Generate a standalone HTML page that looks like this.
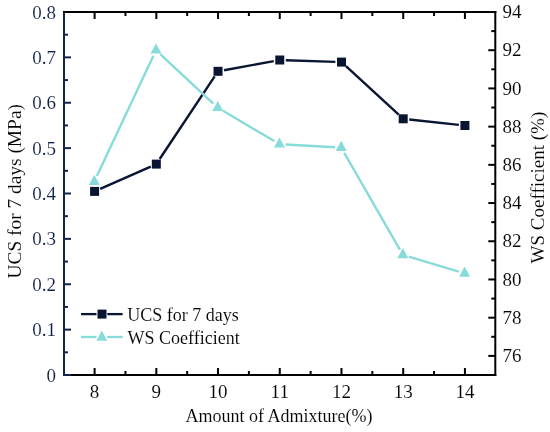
<!DOCTYPE html>
<html><head><meta charset="utf-8"><style>
html,body{margin:0;padding:0;background:#fff;}
svg{display:block;will-change:transform;font-family:"Liberation Serif", serif;}
text{stroke:#fff;stroke-width:0.1px;}
</style></head><body>
<svg width="550" height="432" viewBox="0 0 550 432">
<rect width="550" height="432" fill="#fff"/>
<line x1="94.60" y1="375.0" x2="94.60" y2="368.0" stroke="#000" stroke-width="2"/><line x1="94.60" y1="12.0" x2="94.60" y2="19.0" stroke="#000" stroke-width="2"/><line x1="156.32" y1="375.0" x2="156.32" y2="368.0" stroke="#000" stroke-width="2"/><line x1="156.32" y1="12.0" x2="156.32" y2="19.0" stroke="#000" stroke-width="2"/><line x1="218.04" y1="375.0" x2="218.04" y2="368.0" stroke="#000" stroke-width="2"/><line x1="218.04" y1="12.0" x2="218.04" y2="19.0" stroke="#000" stroke-width="2"/><line x1="279.76" y1="375.0" x2="279.76" y2="368.0" stroke="#000" stroke-width="2"/><line x1="279.76" y1="12.0" x2="279.76" y2="19.0" stroke="#000" stroke-width="2"/><line x1="341.48" y1="375.0" x2="341.48" y2="368.0" stroke="#000" stroke-width="2"/><line x1="341.48" y1="12.0" x2="341.48" y2="19.0" stroke="#000" stroke-width="2"/><line x1="403.20" y1="375.0" x2="403.20" y2="368.0" stroke="#000" stroke-width="2"/><line x1="403.20" y1="12.0" x2="403.20" y2="19.0" stroke="#000" stroke-width="2"/><line x1="464.92" y1="375.0" x2="464.92" y2="368.0" stroke="#000" stroke-width="2"/><line x1="464.92" y1="12.0" x2="464.92" y2="19.0" stroke="#000" stroke-width="2"/><line x1="125.46" y1="375.0" x2="125.46" y2="371.0" stroke="#000" stroke-width="2"/><line x1="125.46" y1="12.0" x2="125.46" y2="16.0" stroke="#000" stroke-width="2"/><line x1="187.18" y1="375.0" x2="187.18" y2="371.0" stroke="#000" stroke-width="2"/><line x1="187.18" y1="12.0" x2="187.18" y2="16.0" stroke="#000" stroke-width="2"/><line x1="248.90" y1="375.0" x2="248.90" y2="371.0" stroke="#000" stroke-width="2"/><line x1="248.90" y1="12.0" x2="248.90" y2="16.0" stroke="#000" stroke-width="2"/><line x1="310.62" y1="375.0" x2="310.62" y2="371.0" stroke="#000" stroke-width="2"/><line x1="310.62" y1="12.0" x2="310.62" y2="16.0" stroke="#000" stroke-width="2"/><line x1="372.34" y1="375.0" x2="372.34" y2="371.0" stroke="#000" stroke-width="2"/><line x1="372.34" y1="12.0" x2="372.34" y2="16.0" stroke="#000" stroke-width="2"/><line x1="434.06" y1="375.0" x2="434.06" y2="371.0" stroke="#000" stroke-width="2"/><line x1="434.06" y1="12.0" x2="434.06" y2="16.0" stroke="#000" stroke-width="2"/><line x1="64.0" y1="352.31" x2="68.0" y2="352.31" stroke="#132449" stroke-width="2"/><line x1="64.0" y1="329.62" x2="71.0" y2="329.62" stroke="#132449" stroke-width="2"/><line x1="64.0" y1="306.94" x2="68.0" y2="306.94" stroke="#132449" stroke-width="2"/><line x1="64.0" y1="284.25" x2="71.0" y2="284.25" stroke="#132449" stroke-width="2"/><line x1="64.0" y1="261.56" x2="68.0" y2="261.56" stroke="#132449" stroke-width="2"/><line x1="64.0" y1="238.87" x2="71.0" y2="238.87" stroke="#132449" stroke-width="2"/><line x1="64.0" y1="216.19" x2="68.0" y2="216.19" stroke="#132449" stroke-width="2"/><line x1="64.0" y1="193.50" x2="71.0" y2="193.50" stroke="#132449" stroke-width="2"/><line x1="64.0" y1="170.81" x2="68.0" y2="170.81" stroke="#132449" stroke-width="2"/><line x1="64.0" y1="148.12" x2="71.0" y2="148.12" stroke="#132449" stroke-width="2"/><line x1="64.0" y1="125.44" x2="68.0" y2="125.44" stroke="#132449" stroke-width="2"/><line x1="64.0" y1="102.75" x2="71.0" y2="102.75" stroke="#132449" stroke-width="2"/><line x1="64.0" y1="80.06" x2="68.0" y2="80.06" stroke="#132449" stroke-width="2"/><line x1="64.0" y1="57.38" x2="71.0" y2="57.38" stroke="#132449" stroke-width="2"/><line x1="64.0" y1="34.69" x2="68.0" y2="34.69" stroke="#132449" stroke-width="2"/><line x1="495.3" y1="355.89" x2="488.3" y2="355.89" stroke="#000" stroke-width="2"/><line x1="495.3" y1="336.79" x2="491.3" y2="336.79" stroke="#000" stroke-width="2"/><line x1="495.3" y1="317.68" x2="488.3" y2="317.68" stroke="#000" stroke-width="2"/><line x1="495.3" y1="298.58" x2="491.3" y2="298.58" stroke="#000" stroke-width="2"/><line x1="495.3" y1="279.47" x2="488.3" y2="279.47" stroke="#000" stroke-width="2"/><line x1="495.3" y1="260.37" x2="491.3" y2="260.37" stroke="#000" stroke-width="2"/><line x1="495.3" y1="241.26" x2="488.3" y2="241.26" stroke="#000" stroke-width="2"/><line x1="495.3" y1="222.16" x2="491.3" y2="222.16" stroke="#000" stroke-width="2"/><line x1="495.3" y1="203.05" x2="488.3" y2="203.05" stroke="#000" stroke-width="2"/><line x1="495.3" y1="183.95" x2="491.3" y2="183.95" stroke="#000" stroke-width="2"/><line x1="495.3" y1="164.84" x2="488.3" y2="164.84" stroke="#000" stroke-width="2"/><line x1="495.3" y1="145.74" x2="491.3" y2="145.74" stroke="#000" stroke-width="2"/><line x1="495.3" y1="126.63" x2="488.3" y2="126.63" stroke="#000" stroke-width="2"/><line x1="495.3" y1="107.53" x2="491.3" y2="107.53" stroke="#000" stroke-width="2"/><line x1="495.3" y1="88.42" x2="488.3" y2="88.42" stroke="#000" stroke-width="2"/><line x1="495.3" y1="69.32" x2="491.3" y2="69.32" stroke="#000" stroke-width="2"/><line x1="495.3" y1="50.21" x2="488.3" y2="50.21" stroke="#000" stroke-width="2"/><line x1="495.3" y1="31.11" x2="491.3" y2="31.11" stroke="#000" stroke-width="2"/>

<line x1="64.0" y1="375.0" x2="496.3" y2="375.0" stroke="#000" stroke-width="2"/>
<line x1="495.3" y1="11.0" x2="495.3" y2="376.0" stroke="#000" stroke-width="2"/>
<line x1="64.0" y1="11.0" x2="64.0" y2="376.0" stroke="#132449" stroke-width="2"/>
<line x1="63.0" y1="12.0" x2="496.3" y2="12.0" stroke="#000" stroke-width="2"/>
<line x1="64.0" y1="375.0" x2="71.0" y2="375.0" stroke="#132449" stroke-width="2"/>

<text x="56" y="381.50" text-anchor="end" fill="#0f1f45" font-size="19">0</text><text x="56" y="336.12" text-anchor="end" fill="#0f1f45" font-size="19">0.1</text><text x="56" y="290.75" text-anchor="end" fill="#0f1f45" font-size="19">0.2</text><text x="56" y="245.37" text-anchor="end" fill="#0f1f45" font-size="19">0.3</text><text x="56" y="200.00" text-anchor="end" fill="#0f1f45" font-size="19">0.4</text><text x="56" y="154.62" text-anchor="end" fill="#0f1f45" font-size="19">0.5</text><text x="56" y="109.25" text-anchor="end" fill="#0f1f45" font-size="19">0.6</text><text x="56" y="63.88" text-anchor="end" fill="#0f1f45" font-size="19">0.7</text><text x="56" y="18.50" text-anchor="end" fill="#0f1f45" font-size="19">0.8</text><text x="94.60" y="398" text-anchor="middle" fill="#000" font-size="19">8</text><text x="156.32" y="398" text-anchor="middle" fill="#000" font-size="19">9</text><text x="218.04" y="398" text-anchor="middle" fill="#000" font-size="19">10</text><text x="279.76" y="398" text-anchor="middle" fill="#000" font-size="19">11</text><text x="341.48" y="398" text-anchor="middle" fill="#000" font-size="19">12</text><text x="403.20" y="398" text-anchor="middle" fill="#000" font-size="19">13</text><text x="464.92" y="398" text-anchor="middle" fill="#000" font-size="19">14</text><text x="502.6" y="362.09" fill="#000" font-size="19">76</text><text x="502.6" y="323.88" fill="#000" font-size="19">78</text><text x="502.6" y="285.67" fill="#000" font-size="19">80</text><text x="502.6" y="247.46" fill="#000" font-size="19">82</text><text x="502.6" y="209.25" fill="#000" font-size="19">84</text><text x="502.6" y="171.04" fill="#000" font-size="19">86</text><text x="502.6" y="132.83" fill="#000" font-size="19">88</text><text x="502.6" y="94.62" fill="#000" font-size="19">90</text><text x="502.6" y="56.41" fill="#000" font-size="19">92</text><text x="502.6" y="18.20" fill="#000" font-size="19">94</text>

<text x="279.0" y="422.3" text-anchor="middle" fill="#000" font-size="18">Amount of Admixture(%)</text>
<text transform="translate(20.8,191.3) rotate(-90)" text-anchor="middle" fill="#000" font-size="19.4">UCS for 7 days (MPa)</text>
<text transform="translate(544,187.6) rotate(-90)" text-anchor="middle" fill="#000" font-size="19">WS Coefficient (%)</text>

<line x1="100.18" y1="188.93" x2="150.74" y2="166.57" stroke="#0a1532" stroke-width="2.4"/>
<line x1="159.70" y1="159.02" x2="214.66" y2="76.38" stroke="#0a1532" stroke-width="2.4"/>
<line x1="224.04" y1="70.20" x2="273.76" y2="61.10" stroke="#0a1532" stroke-width="2.4"/>
<line x1="285.86" y1="60.21" x2="335.38" y2="61.89" stroke="#0a1532" stroke-width="2.4"/>
<line x1="345.97" y1="66.23" x2="398.71" y2="114.67" stroke="#0a1532" stroke-width="2.4"/>
<line x1="409.26" y1="119.46" x2="458.86" y2="124.84" stroke="#0a1532" stroke-width="2.4"/>
<polygon points="90.10,186.90 99.10,186.90 99.10,195.90 90.10,195.90" fill="#0a1532"/>
<polygon points="151.82,159.60 160.82,159.60 160.82,168.60 151.82,168.60" fill="#0a1532"/>
<polygon points="213.54,66.80 222.54,66.80 222.54,75.80 213.54,75.80" fill="#0a1532"/>
<polygon points="275.26,55.50 284.26,55.50 284.26,64.50 275.26,64.50" fill="#0a1532"/>
<polygon points="336.98,57.60 345.98,57.60 345.98,66.60 336.98,66.60" fill="#0a1532"/>
<polygon points="398.70,114.30 407.70,114.30 407.70,123.30 398.70,123.30" fill="#0a1532"/>
<polygon points="460.42,121.00 469.42,121.00 469.42,130.00 460.42,130.00" fill="#0a1532"/>
<line x1="96.90" y1="175.98" x2="153.42" y2="55.72" stroke="#87dcd9" stroke-width="2.4"/>
<line x1="160.48" y1="54.36" x2="213.28" y2="103.54" stroke="#87dcd9" stroke-width="2.4"/>
<line x1="222.99" y1="110.81" x2="274.21" y2="141.09" stroke="#87dcd9" stroke-width="2.4"/>
<line x1="285.55" y1="144.54" x2="335.09" y2="147.26" stroke="#87dcd9" stroke-width="2.4"/>
<line x1="344.22" y1="152.89" x2="399.86" y2="249.61" stroke="#87dcd9" stroke-width="2.4"/>
<line x1="408.74" y1="256.65" x2="458.78" y2="271.65" stroke="#87dcd9" stroke-width="2.4"/>
<polygon points="94.30,174.70 99.80,184.90 88.80,184.90" fill="#87dcd9"/>
<polygon points="156.02,43.40 161.52,53.60 150.52,53.60" fill="#87dcd9"/>
<polygon points="217.74,100.90 223.24,111.10 212.24,111.10" fill="#87dcd9"/>
<polygon points="279.46,137.40 284.96,147.60 273.96,147.60" fill="#87dcd9"/>
<polygon points="341.18,140.80 346.68,151.00 335.68,151.00" fill="#87dcd9"/>
<polygon points="402.90,248.10 408.40,258.30 397.40,258.30" fill="#87dcd9"/>
<polygon points="464.62,266.60 470.12,276.80 459.12,276.80" fill="#87dcd9"/>

<line x1="81" y1="314.1" x2="96.5" y2="314.1" stroke="#0a1532" stroke-width="2.3"/>
<line x1="107.3" y1="314.1" x2="122.6" y2="314.1" stroke="#0a1532" stroke-width="2.3"/>
<polygon points="97.50,309.60 106.50,309.60 106.50,318.60 97.50,318.60" fill="#0a1532"/>
<line x1="81" y1="337.0" x2="96.5" y2="337.0" stroke="#87dcd9" stroke-width="2.3"/>
<line x1="107.2" y1="337.0" x2="122.6" y2="337.0" stroke="#87dcd9" stroke-width="2.3"/>
<polygon points="101.80,330.50 107.30,340.70 96.30,340.70" fill="#87dcd9"/>
<text x="127.2" y="320.6" fill="#000" font-size="18">UCS for 7 days</text>
<text x="127.6" y="344.0" fill="#000" font-size="18">WS Coefficient</text>

</svg>
</body></html>
